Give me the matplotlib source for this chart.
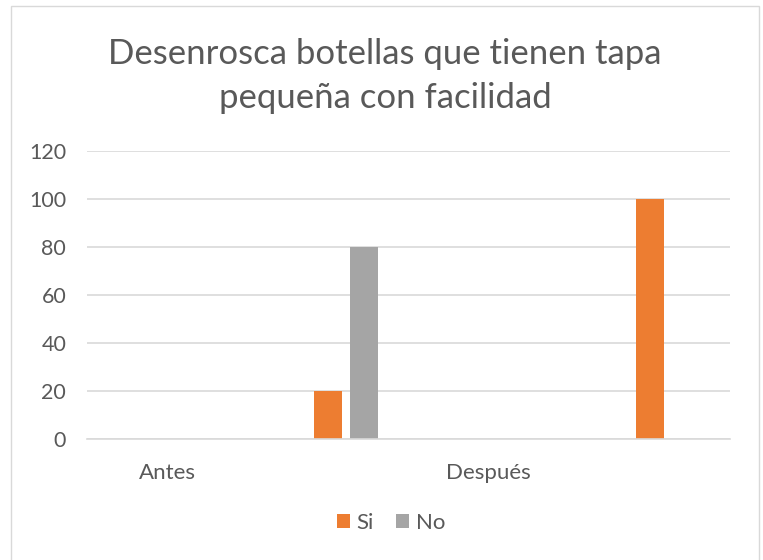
import matplotlib
matplotlib.use("Agg")
import matplotlib.pyplot as plt
from matplotlib.patches import Rectangle
import numpy as np

categories = ["Antes", "", "Después", ""]
series_names = ["Si", "No"]
si_values = [0, 20, 0, 100]
no_values = [0, 80, 0, 0]
yticks = [0, 20, 40, 60, 80, 100, 120]
title = "Desenrosca botellas que tienen tapa\npequeña con facilidad"

colors = {"Si": "#ED7D31", "No": "#A5A5A5"}
txt = "#595959"
font = "Lato"

W, H = 763, 560
fig = plt.figure(figsize=(W / 100, H / 100), dpi=100)
fig.patch.set_facecolor("white")

# chart border
fig.patches.append(Rectangle((11 / W, -0.02), (759 - 11) / W, (H - 6) / H + 0.02,
                             transform=fig.transFigure, fill=False,
                             edgecolor="#D9D9D9", linewidth=1.0))

ax = fig.add_axes([87 / W, (H - 439) / H, (730 - 87) / W, (439 - 151) / H])
x = np.arange(len(categories))
w = 0.1745
off_no = 1.27 * w
ax.bar(x, si_values, width=w, color=colors["Si"], linewidth=0, label="Si")
ax.bar(x + off_no, no_values, width=w, color=colors["No"], linewidth=0, label="No")

ax.set_xlim(-0.5, len(categories) - 0.5)
ax.set_ylim(0, 120)
ax.set_yticks(yticks)
ax.set_yticklabels([str(v) for v in yticks], fontsize=15.5, color=txt, family=font)
ax.set_xticks(x)
ax.set_xticklabels(categories, fontsize=16, color=txt, family=font)
ax.tick_params(axis="both", length=0)
ax.tick_params(axis="y", pad=15)
ax.tick_params(axis="x", pad=17)
ax.grid(axis="y", color="#D9D9D9", linewidth=1.2)
ax.set_axisbelow(True)
for s in ["top", "right", "left"]:
    ax.spines[s].set_visible(False)
ax.spines["bottom"].set_color("#D9D9D9")
ax.spines["bottom"].set_linewidth(1.2)

fig.text(385 / W, 1 - 76 / H, title, ha="center", va="center", fontsize=25,
         color=txt, family=font, linespacing=1.48)

leg = fig.legend(loc="center", bbox_to_anchor=(391 / W, 1 - 523 / H), ncol=2,
                 frameon=False, prop={"family": font, "size": 16},
                 handlelength=0.6, handleheight=0.6, handletextpad=0.3,
                 columnspacing=1.0)
for t in leg.get_texts():
    t.set_color(txt)

fig.savefig("out.png", dpi=100, facecolor="white")
